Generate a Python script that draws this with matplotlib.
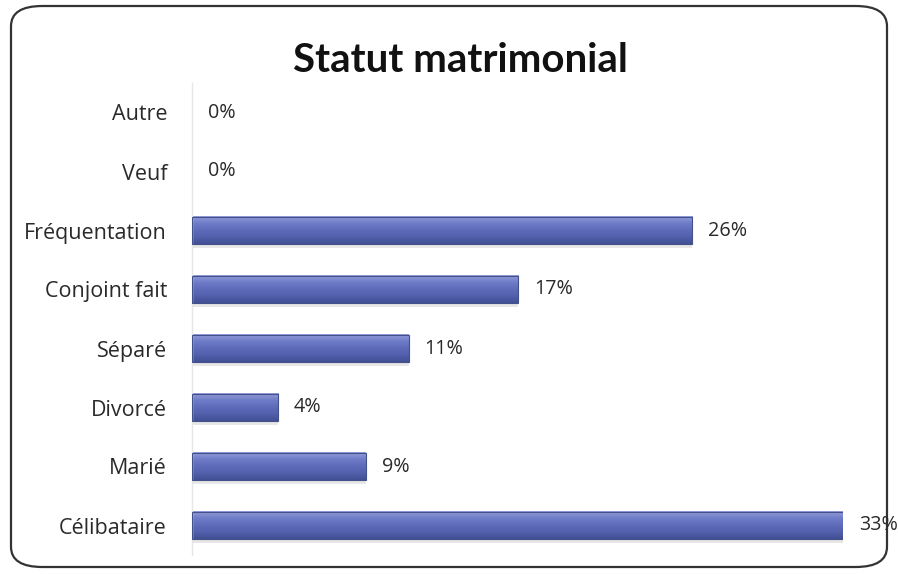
import numpy as np
import matplotlib
matplotlib.use("Agg")
import matplotlib.pyplot as plt
from matplotlib.patches import FancyBboxPatch
from matplotlib.colors import LinearSegmentedColormap

categories = ["Célibataire", "Marié", "Divorcé", "Séparé",
              "Conjoint fait", "Fréquentation", "Veuf", "Autre"]
values = [33.3, 8.9, 4.4, 11.1, 16.7, 25.6, 0.0, 0.0]
labels = ["33%", "9%", "4%", "11%", "17%", "26%", "0%", "0%"]

plt.rcParams["font.family"] = ["Open Sans", "DejaVu Sans"]

W, H = 898, 575
fig = plt.figure(figsize=(W / 100, H / 100), dpi=100)

# rounded frame around the whole chart
frame = FancyBboxPatch(
    (11 / W, 8 / H), (W - 22) / W, (H - 14) / H,
    boxstyle="round,pad=0,rounding_size=0.035",
    transform=fig.transFigure, facecolor="none",
    edgecolor="#333333", linewidth=1.6, zorder=-1,
)
fig.patches.append(frame)

ax = fig.add_axes([192 / W, 20 / H, (843 - 192) / W, (555 - 83) / H])
ax.set_facecolor("none")
ax.set_zorder(2)

bar_h = 0.46
ypos = np.arange(len(categories))
cmap = LinearSegmentedColormap.from_list(
    "bar", ["#959edb", "#6e7cc8", "#5d6bba", "#5260ad", "#414f94"])
grad = np.linspace(0, 1, 64).reshape(-1, 1)

for y, v in zip(ypos, values):
    if v <= 0:
        continue
    # faint shadow
    ax.barh(y - 0.06, v, height=bar_h, color="#d8d8d8", alpha=0.6, zorder=1)
    ax.imshow(grad, cmap=cmap, aspect="auto", zorder=2,
              extent=(0, v, y - bar_h / 2, y + bar_h / 2), origin="upper")
    ax.barh(y, v, height=bar_h, facecolor="none", edgecolor="#44508a",
            linewidth=0.8, zorder=3)

for y, v, lab in zip(ypos, values, labels):
    ax.text(v + 0.8, y, lab, va="center", ha="left", fontsize=14.2,
            color="#2a2a2a", clip_on=False)

ax.set_xlim(0, 33.3)
ax.set_ylim(-0.5, len(categories) - 0.5)
ax.set_yticks(ypos)
ax.set_yticklabels(categories, fontsize=15.5, color="#2a2a2a")
ax.tick_params(axis="y", length=0, pad=18)
ax.set_xticks([])
for s in ["top", "right", "bottom"]:
    ax.spines[s].set_visible(False)
ax.spines["left"].set_color("#e6e6e6")
ax.spines["left"].set_linewidth(1.0)

fig.text(460 / W, 1 - 61 / H, "Statut matrimonial", ha="center", va="center",
         fontsize=29, fontweight="bold", color="#111111", family="Lato")

fig.savefig("out.png", dpi=100)
